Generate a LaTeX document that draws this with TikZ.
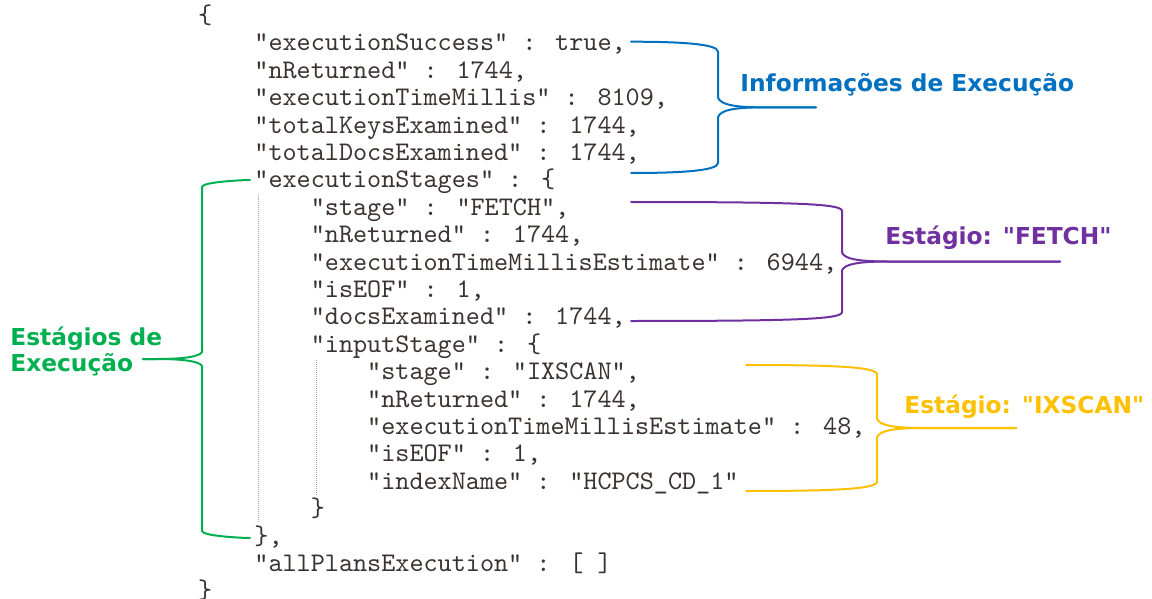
\documentclass[tikz,border=0pt]{standalone}
\usepackage{fontspec}
\newfontfamily\codefont{lmmono10-regular.otf}
\newfontfamily\notefont{DejaVu Sans}
\definecolor{codeink}{HTML}{3A3330}
\definecolor{infoblue}{HTML}{0070C0}
\definecolor{fetchpurple}{HTML}{7030A0}
\definecolor{ixscanyellow}{HTML}{FFC000}
\definecolor{stagegreen}{HTML}{00B050}
\tikzset{
  code/.style={anchor=base west, inner sep=0pt, text=codeink,
    font=\codefont\fontsize{13.43}{16}\selectfont},
  note/.style={anchor=base west, inner sep=0pt,
    font=\notefont\bfseries\fontsize{11.65}{14}\selectfont},
  bracket/.style={line width=1pt, line join=round, line cap=round},
  guide/.style={line width=0.5pt, draw=black!35, dash pattern=on 0.5pt off 0.5pt},
}
% one line of the JSON listing: name, indent level, row, text
\newcommand\codeline[4]{\node[code] (#1) at ({197.6+56.4*#2},{23.5+27.4*#3}) {#4};}
% curly bracket: colour, end x, top y, spine x, bottom y, tip x, direction (1 = opens right, -1 = opens left), spine inset
\newcommand\curlybrace[8]{%
  \coordinate (#1-top) at (#2,#3);
  \coordinate (#1-bot) at (#2,#5);
  \coordinate (#1-tip) at (#6,{(#3+#5)/2});
  \draw[bracket, draw=#1] (#1-top)
    .. controls ({#4-(#7)*40},#3) and (#4,{#3+2}) .. (#4,{#3+#8})
    -- (#4,{(#3+#5)/2-#8})
    .. controls ({#4+(#7)*2},{(#3+#5)/2-3}) and ({#4+(#7)*15},{(#3+#5)/2}) .. ({#4+(#7)*45},{(#3+#5)/2})
    -- (#1-tip);
  \draw[bracket, draw=#1] (#1-tip)
    -- ({#4+(#7)*45},{(#3+#5)/2})
    .. controls ({#4+(#7)*15},{(#3+#5)/2}) and ({#4+(#7)*2},{(#3+#5)/2+3}) .. (#4,{(#3+#5)/2+#8})
    -- (#4,{#5-#8})
    .. controls (#4,{#5-2}) and ({#4-(#7)*40},#5) .. (#1-bot);
}
\begin{document}
\begin{tikzpicture}[x=0.5pt, y=-0.5pt]
\useasboundingbox (0,0) rectangle (1152,599);
\fill[white] (0,0) rectangle (1152,599);

% indentation guides
\draw[guide] (258,195) -- (258,523);
\draw[guide] (316,360) -- (316,495);

% the explain() output
\codeline{l0}{0}{0}{\{}
\codeline{l1}{1}{1}{"executionSuccess" : true,}
\codeline{l2}{1}{2}{"nReturned" : 1744,}
\codeline{l3}{1}{3}{"executionTimeMillis" : 8109,}
\codeline{l4}{1}{4}{"totalKeysExamined" : 1744,}
\codeline{l5}{1}{5}{"totalDocsExamined" : 1744,}
\codeline{l6}{1}{6}{"executionStages" : \{}
\codeline{l7}{2}{7}{"stage" : "FETCH",}
\codeline{l8}{2}{8}{"nReturned" : 1744,}
\codeline{l9}{2}{9}{"executionTimeMillisEstimate" : 6944,}
\codeline{l10}{2}{10}{"isEOF" : 1,}
\codeline{l11}{2}{11}{"docsExamined" : 1744,}
\codeline{l12}{2}{12}{"inputStage" : \{}
\codeline{l13}{3}{13}{"stage" : "IXSCAN",}
\codeline{l14}{3}{14}{"nReturned" : 1744,}
\codeline{l15}{3}{15}{"executionTimeMillisEstimate" : 48,}
\codeline{l16}{3}{16}{"isEOF" : 1,}
\codeline{l17}{3}{17}{"indexName" : "HCPCS\_CD\_1"}
\codeline{l18}{2}{18}{\}}
\codeline{l19}{1}{19}{\},}
\codeline{l20}{1}{20}{"allPlansExecution" : [ ]}
\codeline{l21}{0}{21}{\}}

% brackets
\curlybrace{infoblue}{631}{41.7}{718}{173}{816}{1}{10}
\curlybrace{fetchpurple}{631}{202}{842}{321}{1060}{1}{9}
\curlybrace{ixscanyellow}{746}{365}{877}{491}{1016}{1}{9.5}
\curlybrace{stagegreen}{250}{180}{202}{538}{143}{-1}{7}

% notes
\node[note, text=infoblue] (info) at (740,92) {Informações de Execução};
\node[note, text=fetchpurple] (fetch) at (885,244) {Estágio: "FETCH"};
\node[note, text=ixscanyellow] (ixscan) at (904,413) {Estágio: "IXSCAN"};
\node[note, text=stagegreen] (stages1) at (10,345) {Estágios de};
\node[note, text=stagegreen] (stages2) at (10,371) {Execução};
\end{tikzpicture}
\end{document}
